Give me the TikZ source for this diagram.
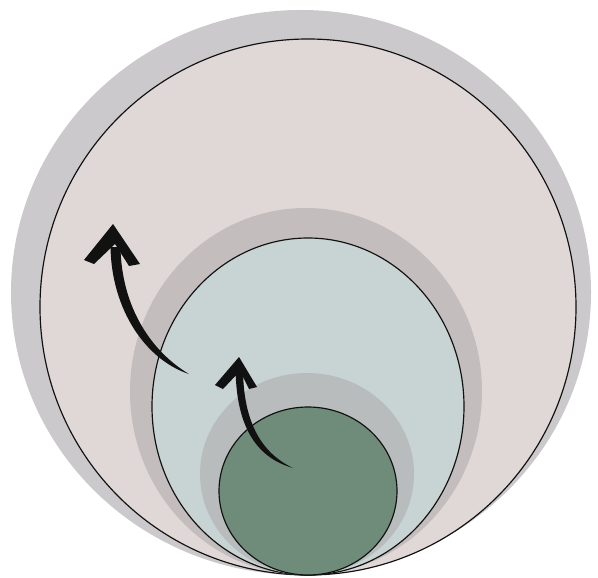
\documentclass[tikz,border=0pt]{standalone}
\definecolor{ink}{HTML}{111111}
\definecolor{shell}{HTML}{DFD8D6}
\definecolor{shellhalo}{HTML}{CBC9CB}
\definecolor{mid}{HTML}{C8D3D3}
\definecolor{midhalo}{HTML}{C4BDBD}
\definecolor{core}{HTML}{6F8C7A}
\definecolor{corehalo}{HTML}{B8BCBD}
\begin{document}
\begin{tikzpicture}[x=.03cm,y=.03cm,
 halo/.style={fill=#1},
 ring/.style={draw=ink,line width=1pt,fill=#1},
 barb/.style={fill=ink}]
\path[use as bounding box] (0,0) rectangle (598,577);
% nested rings, each with a soft grey rim above it
\fill[halo=shellhalo] (301,284.5) ellipse [x radius=290,y radius=282.5];
\draw[ring=shell] (308,270) ellipse [x radius=268,y radius=268];
\fill[halo=midhalo] (306,185.5) ellipse [x radius=176,y radius=183.5];
\draw[ring=mid] (308,170.5) ellipse [x radius=156,y radius=168.5];
\fill[halo=corehalo] (307,103) ellipse [x radius=107,y radius=101];
\draw[ring=core] (308,86) ellipse [x radius=89,y radius=84];
% tapered arrows
\coordinate (bigtail) at (189,203);
\coordinate (bigtip) at (113,353);
\coordinate (smalltail) at (293,109);
\coordinate (smalltip) at (239,220);
\fill[barb] (110.5,330) .. controls (111.5,267) and (146,217) .. (bigtail)
 .. controls (152,225) and (121.5,269) .. (120.5,330) -- cycle;
\fill[barb] (bigtip) -- (84,317) -- (94,313) -- (115,333) -- (129,311) -- (140,313) -- cycle;
\fill[barb] (235.5,207) .. controls (236.5,165) and (247,122) .. (smalltail)
 .. controls (255,127) and (243.5,165) .. (243,207) -- cycle;
\fill[barb] (smalltip) -- (215,192) -- (223,188) -- (240,206) -- (249,188) -- (257,190) -- cycle;
\end{tikzpicture}
\end{document}
